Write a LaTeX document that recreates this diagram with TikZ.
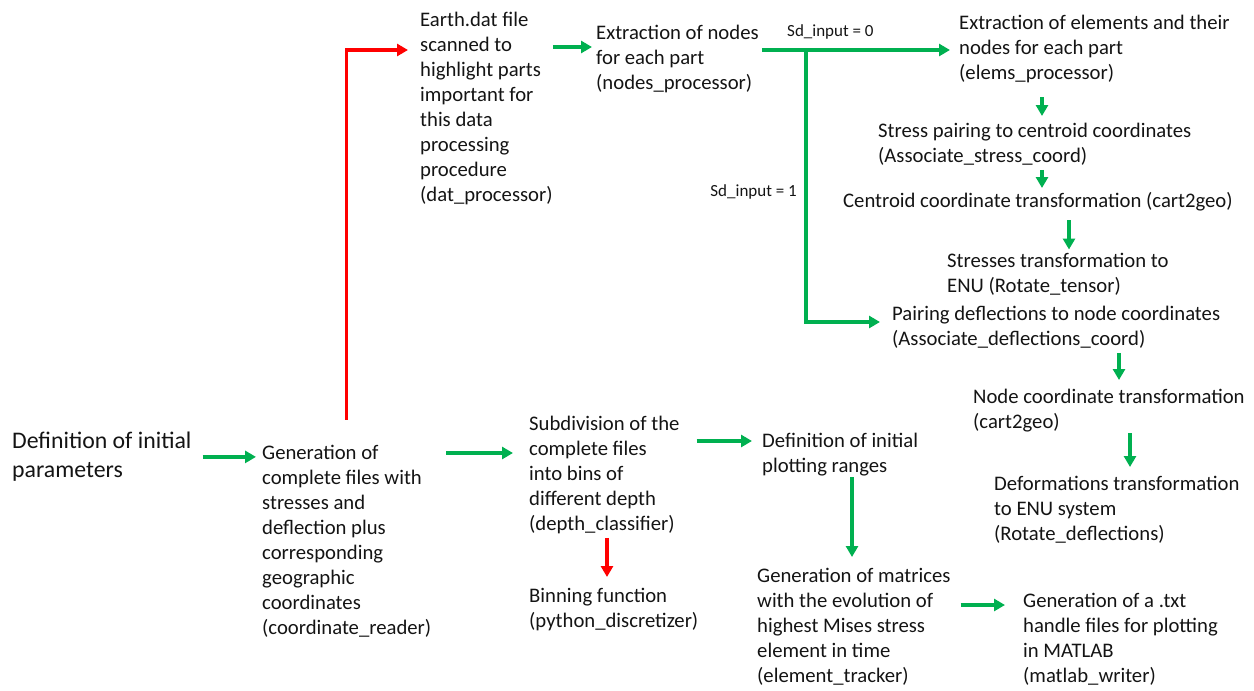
\documentclass[tikz,border=0pt]{standalone}
\usepackage{fontspec}
\setmainfont{Carlito}
\usetikzlibrary{arrows.meta, positioning, calc}
\definecolor{FG}{RGB}{0,176,80}
\definecolor{FR}{RGB}{255,0,0}
\definecolor{TX}{RGB}{20,20,20}

\tikzset{
  txt/.style={font=\fontsize{20.7}{25}\selectfont, text=TX, align=left,
    inner sep=0pt, anchor=north west},
  sdlbl/.style={font=\fontsize{17}{20}\selectfont, text=TX, inner sep=0pt},
  garrow/.style={draw=FG, line width=3.2pt,
    -{Triangle[length=11pt,width=12pt]}},
  rarrow/.style={draw=FR, line width=3.2pt,
    -{Triangle[length=11pt,width=12pt]}}
}

\begin{document}
\begin{tikzpicture}[x=1pt, y=-1pt]
\useasboundingbox (0,0) rectangle (1254,691);

% Left column
\node[txt, font=\fontsize{23.8}{29}\selectfont] (defpar) at (12, 427.7)
  {\strut Definition of initial\\parameters\strut};
\node[txt] (gen) at (262, 441.5)
  {\strut Generation of\\complete files with\\stresses and\\deflection plus\\
   corresponding\\geographic\\coordinates\\(coordinate\_reader)\strut};

% Top row
\node[txt] (earth) at (420, 8.5)
  {\strut Earth.dat file\\scanned to\\highlight parts\\important for\\this data\\
   processing\\procedure\\(dat\_processor)\strut};
\node[txt] (nodes) at (596, 21.5)
  {\strut Extraction of nodes\\for each part\\(nodes\_processor)\strut};
\node[txt] (elems) at (959, 11.5)
  {\strut Extraction of elements and their\\nodes for each part\\(elems\_processor)\strut};
\node[txt] (stress) at (878, 119.5)
  {\strut Stress pairing to centroid coordinates\\(Associate\_stress\_coord)\strut};
\node[txt] (centroid) at (843, 189.5)
  {\strut Centroid coordinate transformation (cart2geo)\strut};
\node[txt] (stresses) at (947, 249.5)
  {\strut Stresses transformation to\\ENU (Rotate\_tensor)\strut};
\node[txt] (pairdef) at (892, 302.5)
  {\strut Pairing deflections to node coordinates\\(Associate\_deflections\_coord)\strut};
\node[txt] (nodecoord) at (973, 385.5)
  {\strut Node coordinate transformation\\(cart2geo)\strut};
\node[txt] (deform) at (994, 472.5)
  {\strut Deformations transformation\\to ENU system\\(Rotate\_deflections)\strut};

% Bottom row
\node[txt] (subdiv) at (529, 412.5)
  {\strut Subdivision of the\\complete files\\into bins of\\different depth\\
   (depth\_classifier)\strut};
\node[txt] (bin) at (529, 584.5)
  {\strut Binning function\\(python\_discretizer)\strut};
\node[txt] (plot) at (762, 429.5)
  {\strut Definition of initial\\plotting ranges\strut};
\node[txt] (matrices) at (757, 564.5)
  {\strut Generation of matrices\\with the evolution of\\highest Mises stress\\
   element in time\\(element\_tracker)\strut};
\node[txt] (matlab) at (1023, 589.5)
  {\strut Generation of a .txt\\handle files for plotting\\in MATLAB\\(matlab\_writer)\strut};

% Branch labels
\node[sdlbl, anchor=base west] (sdzero) at (787, 36) {Sd\_input = 0};
\node[sdlbl, anchor=base east] (sdone) at (797, 196) {Sd\_input = 1};

% Connectors
\draw[garrow] ([xshift=11pt]defpar.east) -- ([xshift=-6pt]gen.west |- defpar.east);
\draw[rarrow] ([yshift=22pt]gen.north) |- ([xshift=-12pt,yshift=-41.5pt]earth.north west);
\draw[garrow] ([yshift=-25.5pt]earth.east |- nodes.north)
  -- ([xshift=-4pt,yshift=-25.5pt]nodes.north west);
\coordinate (split) at ([xshift=-153pt,yshift=-28.5pt]elems.west |- nodes.north);
\draw[garrow] ([xshift=3pt,yshift=-28.5pt]nodes.north east) -- ([xshift=-9pt]elems.west |- split);
\draw[garrow] (split) |- ([xshift=-12pt,yshift=-19.5pt]pairdef.north west);
\draw[garrow] ([xshift=83pt,yshift=-10.5pt]elems.south west)
  -- ([xshift=83pt,yshift=3.5pt]elems.south west |- stress.north);
\draw[garrow] ([xshift=164pt]stress.south west)
  -- ([xshift=164pt,yshift=1.5pt]stress.south west |- centroid.north);
\draw[garrow] ([xshift=122pt,yshift=-5.5pt]stresses.west |- centroid.south)
  -- ([xshift=122pt]stresses.north west);
\draw[garrow] ([xshift=146pt]nodecoord.west |- pairdef.south)
  -- ([xshift=146pt,yshift=5.5pt]nodecoord.north west);
\draw[garrow] ([xshift=136pt,yshift=2.5pt]deform.west |- nodecoord.south)
  -- ([xshift=136pt,yshift=5.5pt]deform.north west);
\draw[garrow] ([xshift=15pt,yshift=-11.5pt]gen.north east)
  -- ([xshift=-16pt,yshift=-11.5pt]gen.north -| subdiv.west);
\draw[garrow] ([xshift=17pt,yshift=-11.5pt]subdiv.east |- plot.north)
  -- ([xshift=-10pt,yshift=-11.5pt]plot.north west);
\draw[rarrow] ([xshift=78pt]subdiv.south west)
  -- ([xshift=78pt,yshift=7.5pt]subdiv.south west |- bin.north);
\draw[garrow] ([xshift=90pt,yshift=2.5pt]plot.south west)
  -- ([xshift=90pt,yshift=7.5pt]plot.south west |- matrices.north);
\draw[garrow] ([xshift=10pt,yshift=-15.5pt]matrices.east |- matlab.north)
  -- ([xshift=-18pt,yshift=-15.5pt]matlab.north west);
\end{tikzpicture}
\end{document}
